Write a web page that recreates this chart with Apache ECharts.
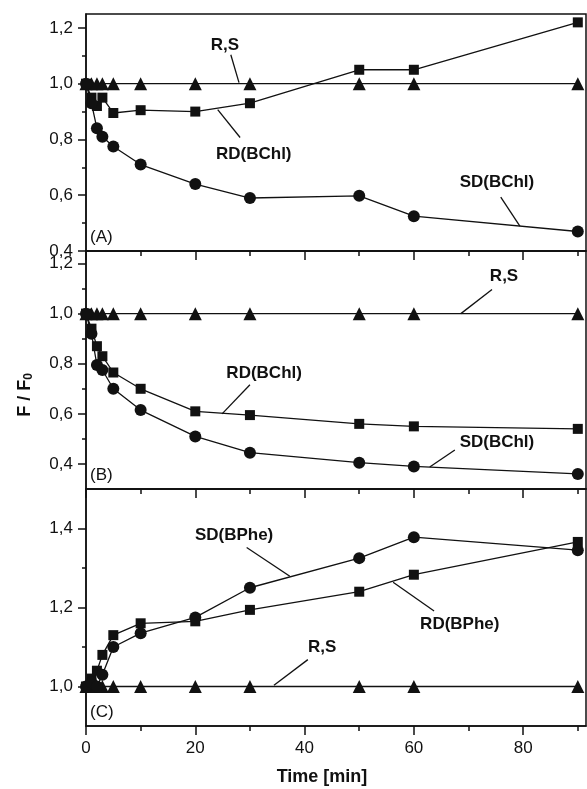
<!DOCTYPE html>
<html>
<head>
<meta charset="utf-8">
<script src="https://cdn.jsdelivr.net/npm/echarts@6/dist/echarts.min.js"></script>
<style>
  html, body { margin: 0; padding: 0; background: #fff; }
  #chart { width: 587px; height: 789px; }
</style>
</head>
<body>
<div id="chart"></div>
<script>
// time points [min]
const times = [0, 1, 2, 3, 5, 10, 20, 30, 50, 60, 90];

// panel A
const aRS = [1, 1, 1, 1, 1, 1, 1, 1, 1, 1, 1];
const aRD = [1, 0.95, 0.92, 0.95, 0.895, 0.905, 0.90, 0.93, 1.05, 1.05, 1.22];
const aSD = [1, 0.93, 0.84, 0.81, 0.775, 0.71, 0.64, 0.59, 0.598, 0.525, 0.47];

// panel B
const bRS = [1, 1, 1, 1, 1, 1, 1, 1, 1, 1, 1];
const bRD = [1, 0.94, 0.87, 0.83, 0.765, 0.70, 0.61, 0.595, 0.56, 0.55, 0.54];
const bSD = [1, 0.92, 0.795, 0.775, 0.70, 0.615, 0.51, 0.445, 0.405, 0.39, 0.36];

// panel C
const cRS = [1, 1, 1, 1, 1, 1, 1, 1, 1, 1, 1];
const cRD = [1, 1.02, 1.04, 1.08, 1.13, 1.16, 1.165, 1.194, 1.24, 1.283, 1.366];
const cSD = [1, 1.01, 1.0, 1.03, 1.10, 1.135, 1.175, 1.25, 1.325, 1.378, 1.345];

// axis ticks
const xMajor = [0, 20, 40, 60, 80];
const xMinor = [10, 30, 50, 70, 90];
const yRanges = [[0.4, 1.25], [0.3, 1.25], [0.9, 1.5]];
const yMajor = [[0.4, 0.6, 0.8, 1.0, 1.2], [0.4, 0.6, 0.8, 1.0, 1.2], [1.0, 1.2, 1.4]];
const yMinor = [[0.5, 0.7, 0.9, 1.1], [0.5, 0.7, 0.9, 1.1], [1.1, 1.3]];

const panelNames = ['(A)', '(B)', '(C)'];

// annotations: [panel, text, textX, textY, lineX1, lineY1, lineX2, lineY2] in data units
const notes = [
  [0, 'R,S', 25.4, 1.139, 26.5, 1.104, 28.0, 1.004],
  [0, 'RD(BChl)', 30.7, 0.746, 28.2, 0.807, 24.1, 0.907],
  [0, 'SD(BChl)', 75.2, 0.646, 75.9, 0.593, 79.4, 0.489],
  [1, 'R,S', 76.5, 1.148, 74.3, 1.096, 68.6, 1.0],
  [1, 'RD(BChl)', 32.6, 0.76, 30.0, 0.716, 24.9, 0.60],
  [1, 'SD(BChl)', 75.2, 0.488, 67.5, 0.456, 62.9, 0.388],
  [2, 'SD(BPhe)', 27.1, 1.382, 29.4, 1.352, 37.3, 1.279],
  [2, 'RD(BPhe)', 68.4, 1.158, 63.7, 1.191, 56.2, 1.264],
  [2, 'R,S', 43.2, 1.098, 40.6, 1.068, 34.4, 1.003]
];

const ink = '#111';
const font = 'Liberation Sans, Arial, sans-serif';
const fmt = (v) => v.toFixed(1).replace('.', ',');
const xFmt = (v) => String(Math.round(v));

const grids = [
  { left: 86, width: 500, top: 14, height: 237 },
  { left: 86, width: 500, top: 251, height: 238 },
  { left: 86, width: 500, top: 489, height: 237 }
].map((g) => Object.assign(g, { show: true, borderColor: ink, borderWidth: 1.5, backgroundColor: 'transparent' }));

const xAxis = [];
const yAxis = [];
for (let i = 0; i < 3; i++) {
  xAxis.push({
    type: 'value', gridIndex: i, min: 0, max: 91.5, position: 'bottom',
    axisLine: { show: true, lineStyle: { color: ink, width: 1.5 } },
    axisTick: { show: true, length: 9, customValues: xMajor, lineStyle: { color: ink, width: 1.5 } },
    axisLabel: { show: i === 2, customValues: xMajor, formatter: xFmt, margin: 14,
      color: ink, fontFamily: font, fontSize: 17 },
    splitLine: { show: false }
  });
  xAxis.push({
    type: 'value', gridIndex: i, min: 0, max: 91.5, position: 'bottom',
    axisLine: { show: false },
    axisTick: { show: true, length: 5, customValues: xMinor, lineStyle: { color: ink, width: 1.5 } },
    axisLabel: { show: false },
    splitLine: { show: false }
  });
  yAxis.push({
    type: 'value', gridIndex: i, min: yRanges[i][0], max: yRanges[i][1], position: 'left',
    axisLine: { show: true, lineStyle: { color: ink, width: 1.5 } },
    axisTick: { show: true, length: 8, customValues: yMajor[i], lineStyle: { color: ink, width: 1.5 } },
    axisLabel: { show: true, customValues: yMajor[i], formatter: fmt, margin: 13,
      color: ink, fontFamily: font, fontSize: 17 },
    splitLine: { show: false }
  });
  yAxis.push({
    type: 'value', gridIndex: i, min: yRanges[i][0], max: yRanges[i][1], position: 'left',
    axisLine: { show: false },
    axisTick: { show: true, length: 4, customValues: yMinor[i], lineStyle: { color: ink, width: 1.5 } },
    axisLabel: { show: false },
    splitLine: { show: false }
  });
}

const pairs = (vals) => times.map((t, k) => [t, vals[k]]);
const line = (panel, vals, symbol, size) => ({
  type: 'line', xAxisIndex: panel * 2, yAxisIndex: panel * 2,
  data: pairs(vals), symbol: symbol, symbolSize: size, showAllSymbol: true,
  lineStyle: { color: ink, width: 1.3 }, itemStyle: { color: ink, borderWidth: 0 },
  animation: false, silent: true
});

const series = [
  line(0, aRS, 'triangle', 13), line(0, aRD, 'rect', 10), line(0, aSD, 'circle', 12),
  line(1, bRS, 'triangle', 13), line(1, bRD, 'rect', 10), line(1, bSD, 'circle', 12),
  line(2, cRS, 'triangle', 13), line(2, cRD, 'rect', 10), line(2, cSD, 'circle', 12)
];

const chart = echarts.init(document.getElementById('chart'), null, { renderer: 'canvas' });
chart.setOption({
  backgroundColor: '#fff',
  animation: false,
  grid: grids,
  xAxis: xAxis,
  yAxis: yAxis,
  series: series
});

// text and leader lines placed through the axes
const graphic = [];
notes.forEach((n) => {
  const p = chart.convertToPixel({ xAxisIndex: n[0] * 2, yAxisIndex: n[0] * 2 }, [n[2], n[3]]);
  const a = chart.convertToPixel({ xAxisIndex: n[0] * 2, yAxisIndex: n[0] * 2 }, [n[4], n[5]]);
  const b = chart.convertToPixel({ xAxisIndex: n[0] * 2, yAxisIndex: n[0] * 2 }, [n[6], n[7]]);
  graphic.push({
    type: 'text', x: p[0], y: p[1], z: 10,
    style: { text: n[1], fill: ink, font: 'bold 17px ' + font, align: 'center', verticalAlign: 'middle' }
  });
  graphic.push({
    type: 'line', z: 10,
    shape: { x1: a[0], y1: a[1], x2: b[0], y2: b[1] },
    style: { stroke: ink, lineWidth: 1.3 }
  });
});
panelNames.forEach((name, i) => {
  const g = grids[i];
  graphic.push({
    type: 'text', x: g.left + 4, y: g.top + g.height - 14, z: 10,
    style: { text: name, fill: ink, font: '17px ' + font, align: 'left', verticalAlign: 'middle' }
  });
});
graphic.push({
  type: 'text', x: 322, y: 777, z: 10,
  style: { text: 'Time [min]', fill: ink, font: 'bold 18px ' + font, align: 'center', verticalAlign: 'middle' }
});
graphic.push({
  type: 'text', x: 25, y: 395, rotation: Math.PI / 2, z: 10,
  style: {
    text: '{a|F / F}{s|0}', fill: ink, align: 'center', verticalAlign: 'middle',
    rich: {
      a: { font: 'bold 18px ' + font, fill: ink },
      s: { font: 'bold 12px ' + font, fill: ink, padding: [8, 0, 0, 0] }
    }
  }
});
chart.setOption({ graphic: graphic });
</script>
</body>
</html>
